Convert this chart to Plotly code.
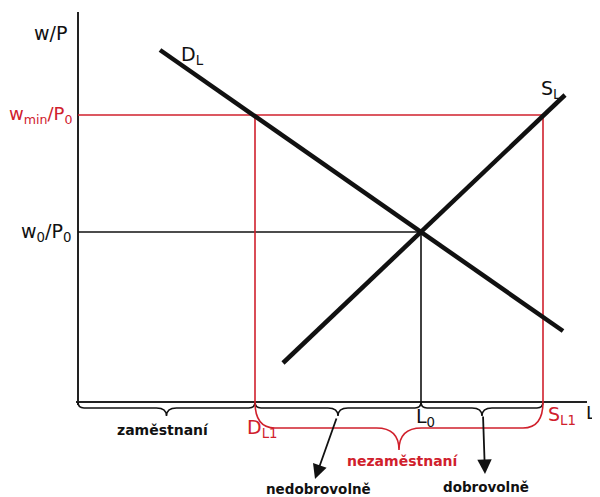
import plotly.graph_objects as go

# ---- data (chart units: L on x, w/P on y) ----
L_D1 = 3.54      # labour demanded at w_min/P_0
L_0 = 6.86       # equilibrium employment
L_S1 = 9.30      # labour supplied at w_min/P_0
W_0 = 3.40       # equilibrium real wage
W_MIN = 5.74     # minimum real wage

D_L_x = [1.64, 9.70]
D_L_y = [7.04, 1.42]
S_L_x = [4.10, 9.74]
S_L_y = [0.78, 6.14]

AXIS_Y_TOP = 7.80
AXIS_X_END = 10.18

BLACK = "#111111"
RED = "#d0202c"
FONT = "DejaVu Sans"

fig = go.Figure()

def line(xs, ys, color, width):
    fig.add_trace(go.Scatter(x=xs, y=ys, mode="lines",
                             line=dict(color=color, width=width),
                             hoverinfo="skip", showlegend=False))

# axes
line([0, 0], [-0.06, AXIS_Y_TOP], "#222222", 2)
line([-0.04, AXIS_X_END], [0, 0], "#222222", 2)

# equilibrium guides
line([0, L_0], [W_0, W_0], BLACK, 1.6)
line([L_0, L_0], [0, W_0], BLACK, 1.6)

# minimum-wage guides
line([0, L_S1], [W_MIN, W_MIN], RED, 1.6)
line([L_D1, L_D1], [0, W_MIN], RED, 1.6)
line([L_S1, L_S1], [0, W_MIN], RED, 1.6)

# demand and supply
line(D_L_x, D_L_y, BLACK, 4.5)
line(S_L_x, S_L_y, BLACK, 4.5)


def brace(x1, x2, y0, h1, h2, r_end, r_mid):
    xm = (x1 + x2) / 2
    yh = y0 - h1
    yt = y0 - h2
    return (f"M {x1},{y0} Q {x1},{yh} {x1 + r_end},{yh} "
            f"L {xm - r_mid},{yh} Q {xm},{yh} {xm},{yt} "
            f"Q {xm},{yh} {xm + r_mid},{yh} "
            f"L {x2 - r_end},{yh} Q {x2},{yh} {x2},{y0}")

shapes = []
for a, b in [(0, L_D1), (L_D1, L_0), (L_0, L_S1)]:
    shapes.append(dict(type="path", xref="x", yref="y",
                       path=brace(a, b, 0, 0.12, 0.28, 0.12, 0.2),
                       line=dict(color=BLACK, width=1.6)))
shapes.append(dict(type="path", xref="x", yref="y",
                   path=brace(L_D1, L_S1, 0, 0.52, 0.96, 0.4, 0.45),
                   line=dict(color=RED, width=1.6)))

ann = []
def text(x, y, s, color=BLACK, size=19, xanchor="left", bold=False):
    if bold:
        s = f"<b>{s}</b>"
    ann.append(dict(x=x, y=y, xref="x", yref="y", text=s, showarrow=False,
                    xanchor=xanchor, yanchor="middle",
                    font=dict(family=FONT, size=size, color=color)))

text(-0.18, 7.38, "w/P", xanchor="right")
text(-0.08, W_MIN, "w<sub>min</sub>/P<sub>0</sub>", color=RED, size=18, xanchor="right")
text(-0.10, W_0, "w<sub>0</sub>/P<sub>0</sub>", xanchor="right")
text(2.02, 6.94, "D<sub>L</sub>")
text(9.22, 6.26, "S<sub>L</sub>")
text(10.40, -0.20, "L", size=18, xanchor="right")
text(6.72, -0.30, "L<sub>0</sub>")
text(3.34, -0.52, "D<sub>L1</sub>", color=RED)
text(9.36, -0.26, "S<sub>L1</sub>", color=RED)
text(1.70, -0.56, "zaměstnaní", size=14, xanchor="center", bold=True)
text(6.50, -1.18, "nezaměstnaní", color=RED, size=14, xanchor="center", bold=True)
text(4.80, -1.74, "nedobrovolně", size=13.5, xanchor="center", bold=True)
text(8.16, -1.70, "dobrovolně", size=13.5, xanchor="center", bold=True)

# arrows
for (tx, ty), (hx, hy) in [((5.18, -0.30), (4.74, -1.54)),
                           ((8.10, -0.26), (8.14, -1.44))]:
    ann.append(dict(x=hx, y=hy, ax=tx, ay=ty, xref="x", yref="y",
                    axref="x", ayref="y", text="", showarrow=True,
                    arrowhead=2, arrowsize=1.6, arrowwidth=1.8,
                    arrowcolor=BLACK))

# the page places the figure 8 px in from the top-left corner,
# so the figure covers the visible 592 x 489 area
fig.update_layout(
    width=592, height=489,
    margin=dict(l=0, r=0, t=0, b=0),
    paper_bgcolor="white", plot_bgcolor="white",
    xaxis=dict(range=[-1.40, 10.44], visible=False, fixedrange=True),
    yaxis=dict(range=[-1.90, 7.88], visible=False, fixedrange=True),
    shapes=shapes, annotations=ann, showlegend=False,
)

fig.write_html("out.html")
